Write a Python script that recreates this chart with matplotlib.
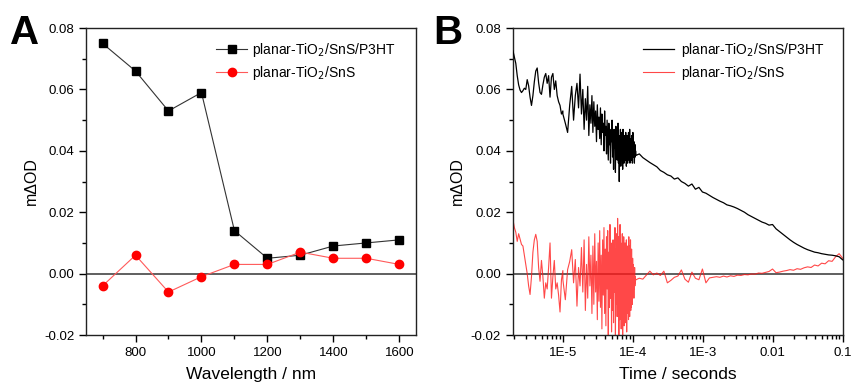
import numpy as np
import matplotlib
matplotlib.use("Agg")
import matplotlib.pyplot as plt
from matplotlib.ticker import MultipleLocator, FixedLocator, FixedFormatter, LogLocator, NullFormatter

plt.rcParams['font.family'] = ['Liberation Sans', 'DejaVu Sans']

# Panel A: transient absorption amplitude vs probe wavelength
wavelength = [700, 800, 900, 1000, 1100, 1200, 1300, 1400, 1500, 1600]
od_p3ht = [0.075, 0.066, 0.053, 0.059, 0.014, 0.005, 0.006, 0.009, 0.010, 0.011]
od_sns = [-0.004, 0.006, -0.006, -0.001, 0.003, 0.003, 0.007, 0.005, 0.005, 0.003]

# Panel B: decay traces in three time windows
# (log10 time limits of each window; the middle one is sampled evenly in time)
win_early = (-5.714, -5.0)
win_noisy = (-5.0, -3.957)
win_late = (-3.957, -1.0)

p3ht_early = [0.0726, 0.0705, 0.0685, 0.0645, 0.0615, 0.0598, 0.0590, 0.0596, 0.0604, 0.0600,
              0.0632, 0.0612, 0.0575, 0.0548, 0.0580, 0.0625, 0.0660, 0.0670, 0.0622, 0.0590,
              0.0584, 0.0615, 0.0640, 0.0652, 0.0620, 0.0645, 0.0575, 0.0640, 0.0652, 0.0600,
              0.0628, 0.0580, 0.0560, 0.0548, 0.0520, 0.0530]
p3ht_noisy = [0.052, 0.049, 0.046, 0.055, 0.061, 0.050, 0.058, 0.062, 0.054, 0.065,
              0.052, 0.060, 0.047, 0.057, 0.050, 0.061, 0.045, 0.055, 0.049, 0.058,
              0.046, 0.056, 0.048, 0.053, 0.043, 0.055, 0.047, 0.051, 0.044, 0.054,
              0.042, 0.052, 0.046, 0.049, 0.040, 0.053, 0.045, 0.048, 0.039, 0.050,
              0.044, 0.037, 0.049, 0.042, 0.047, 0.036, 0.046, 0.043, 0.050, 0.038,
              0.045, 0.034, 0.047, 0.041, 0.044, 0.033, 0.048, 0.040, 0.046, 0.037,
              0.043, 0.049, 0.036, 0.045, 0.030, 0.044, 0.039, 0.047, 0.035, 0.042,
              0.046, 0.038, 0.044, 0.034, 0.047, 0.040, 0.043, 0.036, 0.045, 0.039,
              0.044, 0.037, 0.046, 0.040, 0.035, 0.043, 0.039, 0.045, 0.036, 0.042,
              0.040, 0.046, 0.037, 0.043, 0.039, 0.047, 0.036, 0.041, 0.044, 0.038,
              0.042, 0.037, 0.045, 0.040, 0.043, 0.036, 0.041, 0.046, 0.039, 0.042,
              0.038, 0.043, 0.040, 0.036, 0.041, 0.039, 0.042, 0.038, 0.040, 0.039]
p3ht_late = [0.0385, 0.0390, 0.0378, 0.0370, 0.0362, 0.0355, 0.0348, 0.0336, 0.0330, 0.0322,
             0.0318, 0.0308, 0.0312, 0.0300, 0.0294, 0.0285, 0.0292, 0.0275, 0.0281, 0.0266,
             0.0262, 0.0255, 0.0248, 0.0242, 0.0236, 0.0231, 0.0224, 0.0221, 0.0217, 0.0212,
             0.0206, 0.0200, 0.0192, 0.0186, 0.0180, 0.0174, 0.0168, 0.0164, 0.0158, 0.0160,
             0.0146, 0.0137, 0.0128, 0.0119, 0.0110, 0.0102, 0.0095, 0.0089, 0.0083, 0.0078,
             0.0074, 0.0070, 0.0068, 0.0065, 0.0063, 0.0061, 0.0060, 0.0058, 0.0055, 0.0045]

sns_early = [0.0176, 0.0150, 0.0135, 0.0105, 0.0130, 0.0112, 0.0095, 0.0090, 0.0060, 0.0030,
             0.0000, -0.0040, -0.0068, -0.0010, 0.0070, 0.0110, 0.0128, 0.0105, 0.0020, -0.0025,
             0.0043, -0.0010, -0.0080, -0.0030, -0.0050, 0.0020, 0.0100, -0.0080, -0.0010, 0.0043,
             -0.0050, -0.0030, -0.0070, -0.0125, -0.0020, 0.0010]
sns_noisy = [-0.002, -0.0085, 0.0013, 0.004, 0.0078, -0.003, 0.0046, -0.0106, 0.002, -0.004,
             0.0085, -0.006, 0.011, -0.012, 0.003, -0.008, 0.012, -0.004, 0.006, -0.013,
             0.009, -0.010, 0.013, -0.006, 0.004, -0.015, 0.010, -0.009, 0.014, -0.011,
             0.006, -0.018, 0.011, -0.007, 0.015, -0.013, 0.008, -0.017, 0.012, -0.005,
             0.014, -0.020, 0.007, -0.011, 0.016, -0.008, 0.010, -0.019, 0.004, -0.012,
             0.011, -0.016, 0.009, -0.006, 0.015, -0.021, 0.008, -0.010, 0.013, -0.014,
             0.018, -0.009, 0.012, -0.020, 0.006, -0.015, 0.016, -0.007, 0.010, -0.018,
             0.009, -0.014, 0.013, -0.021, 0.005, -0.011, 0.012, -0.017, 0.007, -0.009,
             0.010, -0.016, 0.006, -0.012, 0.011, -0.019, 0.004, -0.008, 0.009, -0.013,
             0.008, -0.015, 0.012, -0.010, 0.005, -0.014, 0.009, -0.006, 0.011, -0.012,
             0.006, -0.011, 0.008, -0.009, 0.004, -0.010, 0.005, -0.007, 0.003, -0.006,
             0.002, -0.008, 0.001, -0.005, 0.002, -0.004, -0.001, -0.003, -0.002, -0.002]
sns_late = [-0.0020, -0.0015, -0.0018, -0.0005, 0.0008, -0.0004, 0.0002, -0.0006, 0.0008, -0.0030,
            -0.0022, -0.0012, -0.0008, 0.0012, -0.0018, -0.0028, 0.0005, -0.0015, -0.0020, 0.0015,
            -0.0030, -0.0014, -0.0012, -0.0010, -0.0012, -0.0008, -0.0011, -0.0007, -0.0009, -0.0005,
            -0.0006, -0.0003, -0.0004, -0.0001, -0.0002, 0.0002, 0.0001, 0.0004, 0.0007, 0.0015,
            0.0003, 0.0005, 0.0008, 0.0010, 0.0013, 0.0011, 0.0016, 0.0014, 0.0019, 0.0022,
            0.0020, 0.0028, 0.0025, 0.0034, 0.0032, 0.0042, 0.0040, 0.0055, 0.0065, 0.0050]

log_ticks = [1e-5, 1e-4, 1e-3, 1e-2, 1e-1]
log_tick_labels = ['1E-5', '1E-4', '1E-3', '0.01', '0.1']

lab_p3ht = 'planar-TiO$_2$/SnS/P3HT'
lab_sns = 'planar-TiO$_2$/SnS'


def trace(early, noisy, late):
    t = np.concatenate([
        np.logspace(win_early[0], win_early[1], len(early)),
        np.linspace(10 ** win_noisy[0], 10 ** win_noisy[1], len(noisy)),
        np.logspace(win_late[0], win_late[1], len(late)),
    ])
    return t, np.concatenate([early, noisy, late])


t_p3ht, y_p3ht = trace(p3ht_early, p3ht_noisy, p3ht_late)
t_sns, y_sns = trace(sns_early, sns_noisy, sns_late)

fig = plt.figure(figsize=(8.52, 3.90), dpi=100)
axA = fig.add_axes([0.101, 0.141, 0.387, 0.787])
axB = fig.add_axes([0.602, 0.141, 0.387, 0.787])

for ax in (axA, axB):
    ax.axhline(0, color='#444444', lw=1.2, zorder=1)
    ax.set_ylim(-0.02, 0.08)
    ax.yaxis.set_major_locator(MultipleLocator(0.02))
    ax.yaxis.set_minor_locator(MultipleLocator(0.01))
    ax.yaxis.set_major_formatter(plt.FuncFormatter(lambda v, p: f'{v:.2f}'))
    ax.tick_params(which='major', direction='out', length=5, width=1, labelsize=9.5,
                   top=False, right=False)
    ax.tick_params(which='minor', direction='out', length=3, width=1, top=False, right=False)
    for s in ax.spines.values():
        s.set_linewidth(1.0)
        s.set_color('#222222')
    ax.set_ylabel('m\u0394OD', fontsize=11.5, labelpad=4)

# Panel A
axA.plot(wavelength, od_p3ht, color='#333333', lw=0.8, marker='s', ms=5.5,
         mfc='black', mec='black', label=lab_p3ht, zorder=3)
axA.plot(wavelength, od_sns, color='#ff5a5a', lw=0.8, marker='o', ms=6,
         mfc='red', mec='red', label=lab_sns, zorder=3)
axA.set_xlim(650, 1650)
axA.xaxis.set_major_locator(MultipleLocator(200))
axA.xaxis.set_minor_locator(MultipleLocator(100))
axA.set_xlabel('Wavelength / nm', fontsize=12.5, labelpad=6)
axA.legend(loc='upper left', bbox_to_anchor=(0.37, 0.985), frameon=False, fontsize=10,
           handlelength=2.2, handletextpad=0.4, labelspacing=0.35, borderaxespad=0.2)

# Panel B
axB.plot(t_p3ht, y_p3ht, color='black', lw=0.9, label=lab_p3ht, zorder=3)
axB.plot(t_sns, y_sns, color='#ff1a1a', lw=0.8, alpha=0.8, label=lab_sns, zorder=2)
axB.set_xscale('log')
axB.set_xlim(1.93e-6, 0.1)
axB.xaxis.set_major_locator(FixedLocator(log_ticks))
axB.xaxis.set_major_formatter(FixedFormatter(log_tick_labels))
axB.xaxis.set_minor_locator(LogLocator(base=10, subs=np.arange(2, 10)))
axB.xaxis.set_minor_formatter(NullFormatter())
axB.set_xlabel('Time / seconds', fontsize=12.5, labelpad=6)
axB.legend(loc='upper left', bbox_to_anchor=(0.37, 0.985), frameon=False, fontsize=10,
           handlelength=2.2, handletextpad=0.5, labelspacing=0.35, borderaxespad=0.2)

fig.text(0.012, 0.965, 'A', fontsize=29, fontweight='bold', va='top', ha='left')
fig.text(0.508, 0.965, 'B', fontsize=29, fontweight='bold', va='top', ha='left')

fig.savefig('out.png', dpi=100)
